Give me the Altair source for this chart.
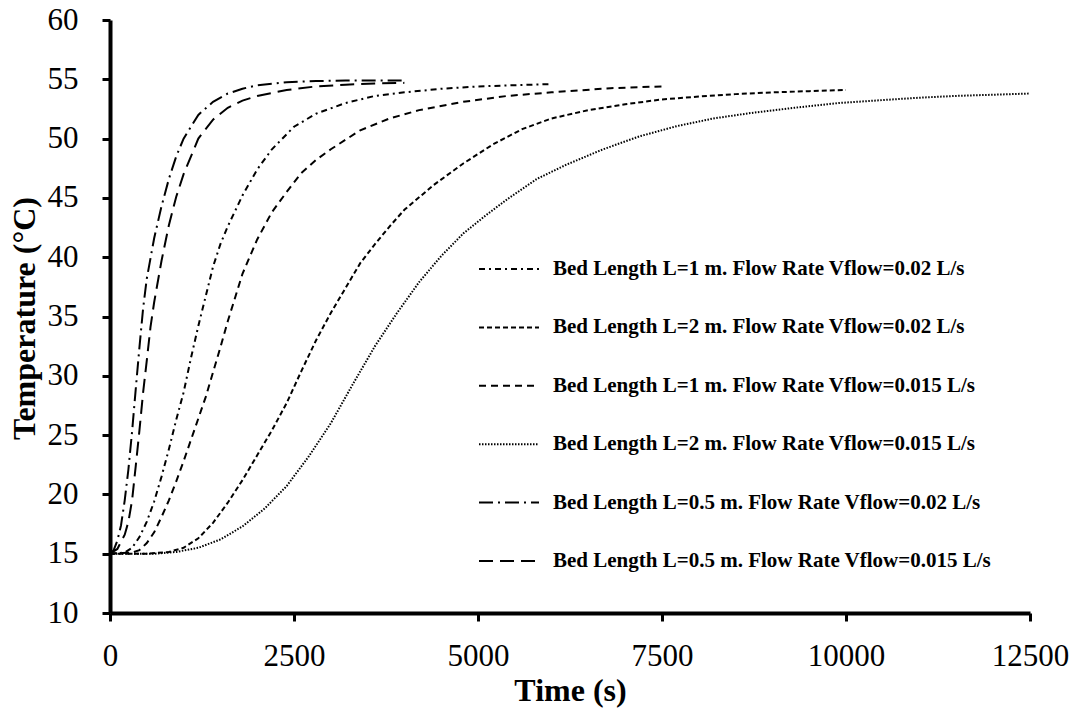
import altair as alt
import pandas as pd

# ---- data ----
labels = [
    "Bed Length L=1 m. Flow Rate Vflow=0.02 L/s",
    "Bed Length L=2 m. Flow Rate Vflow=0.02 L/s",
    "Bed Length L=1 m. Flow Rate Vflow=0.015 L/s",
    "Bed Length L=2 m. Flow Rate Vflow=0.015 L/s",
    "Bed Length L=0.5 m. Flow Rate Vflow=0.02 L/s",
    "Bed Length L=0.5 m. Flow Rate Vflow=0.015 L/s",
]

# L=1 m, 0.02 L/s
t_C = [0, 200, 300, 400, 500, 600, 700, 800, 900, 1000, 1100, 1200, 1300, 1400, 1500,
       1600, 1800, 2000, 2200, 2500, 2800, 3200, 3600, 4000, 4500, 5000, 5500, 6000]
T_C = [15, 15.1, 15.5, 16.4, 17.7, 19.4, 21.5, 23.8, 26.3, 28.6, 31.5, 34.2, 36.7, 39.2, 41.1,
       42.6, 45.2, 47.4, 49.1, 51.0, 52.1, 53.0, 53.6, 53.9, 54.2, 54.4, 54.5, 54.6]

# L=2 m, 0.02 L/s
t_E = [0, 500, 800, 1000, 1200, 1400, 1600, 1800, 2000, 2200, 2400, 2600, 2800, 3000, 3200,
       3400, 3600, 3800, 4000, 4400, 4800, 5200, 5600, 6000, 6500, 7000, 7500, 8000, 8500,
       9000, 9500, 10000]
T_E = [15, 15, 15.15, 15.5, 16.3, 17.6, 19.3, 21.2, 23.3, 25.4, 27.7, 30.4, 33.0, 35.3, 37.4,
       39.5, 41.1, 42.6, 44.0, 46.1, 47.9, 49.5, 50.8, 51.7, 52.4, 52.9, 53.3, 53.55, 53.75,
       53.9, 54.0, 54.1]

# L=1 m, 0.015 L/s
t_D = [0, 300, 400, 500, 600, 700, 800, 900, 1000, 1100, 1200, 1300, 1400, 1500, 1600,
       1800, 2000, 2200, 2400, 2600, 2800, 3000, 3400, 3800, 4200, 4800, 5400, 6000, 6800, 7500]
T_D = [15, 15.1, 15.3, 15.9, 16.8, 18.1, 19.5, 21.1, 22.8, 24.6, 26.4, 28.2, 30.3, 32.4, 34.6,
       38.6, 41.5, 43.8, 45.5, 47.1, 48.2, 49.1, 50.7, 51.7, 52.4, 53.1, 53.6, 53.9, 54.25, 54.4]

# L=2 m, 0.015 L/s
t_F = [0, 600, 900, 1200, 1500, 1800, 2100, 2400, 2700, 3000, 3300, 3600, 3900, 4200, 4500,
       4800, 5100, 5400, 5800, 6200, 6700, 7200, 7700, 8200, 8700, 9300, 9900, 10500, 11000,
       11500, 12000, 12500]
T_F = [15, 15, 15.15, 15.5, 16.2, 17.3, 18.8, 20.7, 23.2, 26.0, 29.3, 32.5, 35.3, 37.9, 40.1,
       42.0, 43.5, 44.9, 46.6, 47.8, 49.1, 50.2, 51.05, 51.7, 52.15, 52.6, 53.0, 53.25, 53.45,
       53.6, 53.7, 53.8]

# L=0.5 m, 0.02 L/s
t_A = [0, 50, 100, 150, 200, 250, 300, 350, 400, 450, 500, 600, 700, 800, 900, 1000, 1200,
       1400, 1600, 1800, 2000, 2400, 2800, 3200, 3600, 4000]
T_A = [15, 15.3, 16.1, 17.4, 19.5, 22.1, 25.3, 28.9, 32.4, 35.7, 38.2, 41.6, 44.3, 46.6, 48.5,
       50.0, 52.0, 53.1, 53.8, 54.2, 54.5, 54.75, 54.85, 54.9, 54.9, 54.9]

# L=0.5 m, 0.015 L/s
t_B = [0, 100, 200, 250, 300, 350, 400, 450, 500, 550, 600, 700, 800, 900, 1000, 1200, 1400,
       1600, 1800, 2000, 2400, 2800, 3200, 3600, 4000]
T_B = [15, 15.4, 16.6, 17.7, 19.5, 22.4, 25.4, 28.6, 31.3, 34.1, 36.2, 39.7, 42.7, 45.1, 47.0,
       50.0, 51.6, 52.6, 53.2, 53.6, 54.1, 54.4, 54.55, 54.65, 54.7]

x_ticks = [0, 2500, 5000, 7500, 10000, 12500]
y_ticks = [10, 15, 20, 25, 30, 35, 40, 45, 50, 55, 60]

series = [(t_C, T_C), (t_E, T_E), (t_D, T_D), (t_F, T_F), (t_A, T_A), (t_B, T_B)]
rows = []
for lab, (ts, Ts) in zip(labels, series):
    for t, T in zip(ts, Ts):
        rows.append({"time": t, "temp": T, "series": lab})
df = pd.DataFrame(rows)

# ---- styles ----
dashes = [[6, 4, 2, 4], [5, 3], [7, 5], [1.5, 1.5], [14, 5, 2, 5], [14, 7]]
widths = [2, 2, 2, 1.6, 2, 2]
FONT = "Liberation Serif"

chart = alt.Chart(df).mark_line(color="black").encode(
    x=alt.X("time:Q",
            scale=alt.Scale(domain=[0, 12500], nice=False, zero=False),
            axis=alt.Axis(values=x_ticks, title="Time (s)", format="d",
                          labelFlush=False, labelPadding=20,
                          titleY=87, titleBaseline="alphabetic")),
    y=alt.Y("temp:Q",
            scale=alt.Scale(domain=[10, 60], nice=False, zero=False),
            axis=alt.Axis(values=y_ticks, title="Temperature (°C)",
                          labelPadding=24, labelFlush=False,
                          titleX=-76, titleY=298,
                          titleAlign="center", titleBaseline="alphabetic", titleAngle=-90)),
    strokeDash=alt.StrokeDash("series:N",
                              scale=alt.Scale(domain=labels, range=dashes),
                              legend=alt.Legend(title=None, orient="none",
                                                legendX=368, legendY=218)),
    strokeWidth=alt.StrokeWidth("series:N",
                                scale=alt.Scale(domain=labels, range=widths),
                                legend=None),
).properties(
    width=920, height=593,
    autosize=alt.AutoSizeParams(type="none"),
    padding={"left": 110, "top": 20, "right": 53, "bottom": 99},
).configure_view(
    stroke=None
).configure_axis(
    grid=False,
    domainColor="black", domainWidth=4,
    tickColor="black", tickWidth=3, tickSize=8,
    labelFont=FONT, labelFontSize=31, labelColor="black",
    titleFont=FONT, titleFontSize=32, titleFontWeight="bold", titleColor="black",
).configure_axisY(
    labelBaseline="middle"
).configure_legend(
    labelFont=FONT, labelFontSize=21, labelFontWeight="bold", labelColor="black",
    labelLimit=700, labelOffset=13,
    symbolType="stroke", symbolSize=3600, symbolStrokeWidth=2,
    symbolStrokeColor="black",
    rowPadding=17.4, padding=0, offset=0,
)

chart.save("out.html", embed_options={"renderer": "svg", "actions": False})
